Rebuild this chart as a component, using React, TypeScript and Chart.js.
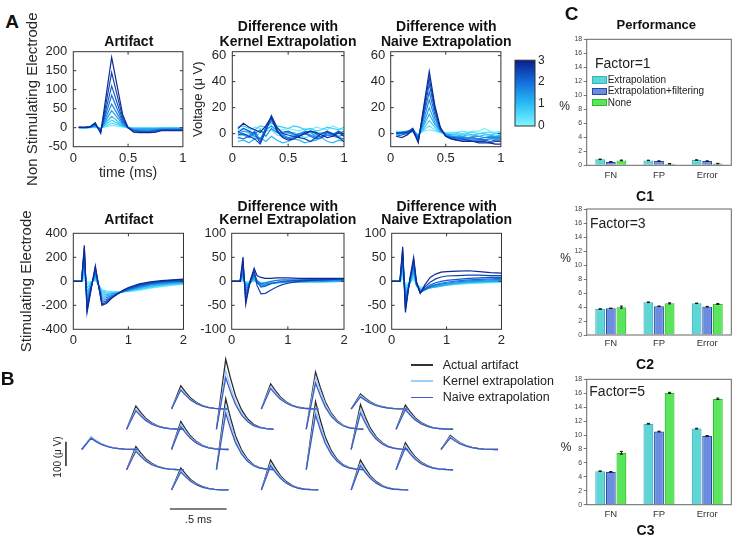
import React, { useEffect, useRef } from "react";
import { Chart, registerables } from "chart.js";

Chart.register(...registerables);

const FONT = "'Liberation Sans', Arial, Helvetica, sans-serif";

// ---------------- Panel A data ----------------
// colour level of each trace (0..3 on the colour bar), darkest first
const levelsA = [2.85, 2.55, 2.25, 1.95, 1.65, 1.35, 1.05, 0.75, 0.45, 0.15];
const xTop = [0.05, 0.1, 0.15, 0.2, 0.25, 0.3, 0.35, 0.4, 0.45, 0.5, 0.55, 0.6, 0.65, 0.7, 0.75, 0.8, 0.85, 0.9, 0.95, 1.0];
const xBot = [0, 0.1, 0.15, 0.2, 0.25, 0.33, 0.4, 0.45, 0.52, 0.6, 0.7, 0.8, 0.9, 1.0, 1.2, 1.4, 1.6, 1.8, 2.0];

const artifactTop = [
  [1, 1, 2, 13, -15, 85, 185, 110, 35, 0, -12, -13, -13, -13, -12, -8, -8, -8, -8, -8],
  [1, 1, 2, 11, -12, 66, 145, 86, 28, 0, -10, -11, -12, -12, -11, -7, -7, -7, -7, -7],
  [1, 1, 2, 9, -10, 50, 110, 65, 21, 0, -8, -9, -10, -10, -9, -6, -6, -6, -6, -6],
  [1, 0, 1, 8, -8, 38, 85, 50, 16, 0, -7, -8, -8, -8, -7, -5, -5, -5, -5, -5],
  [1, 0, 1, 6, -6, 28, 62, 37, 12, 0, -5, -6, -6, -6, -5, -4, -4, -4, -4, -4],
  [0, 0, 1, 5, -4, 20, 45, 27, 9, 0, -4, -4, -4, -4, -4, -3, -3, -3, -3, -3],
  [0, 0, 1, 4, -3, 14, 30, 18, 6, 0, -3, -3, -3, -3, -3, -2, -2, -2, -2, -2],
  [0, 0, 1, 3, -2, 9, 20, 12, 4, 0, -2, -2, -2, -2, -2, -1, -1, -1, -1, -1],
  [0, 0, 0, 2, -1, 5, 12, 8, 3, 0, -1, -1, -1, -1, -1, 0, 0, 0, 0, 0],
  [0, 0, 0, 1, 0, 3, 6, 4, 2, 1, 0, 0, 0, 0, 0, 0, 0, 1, 0, 0],
];
const kernelTop = [
  [4, 8, 5, 3, 1, 6, 13, 2, -3, -5, -4, -2, 0, 2, 1, -1, -3, -2, 1, -2],
  [-1, 0, -2, -4, -8, 2, 14, 5, 0, -1, -2, -3, -4, -6, -3, 0, 2, 0, -3, -6],
  [1, 4, 2, 0, -7, 5, 12, 4, 1, 2, 0, -2, 1, 2, 0, -3, 1, -1, 2, 0],
  [-3, -4, -2, 2, -5, 4, 10, 3, -2, -4, -3, -1, 0, -2, -4, -3, -1, -2, -3, -4],
  [2, -1, -3, 0, 3, -2, 4, 1, -1, -3, -2, 0, 1, -1, -3, -2, 1, 0, -2, -1],
  [0, 2, 1, -2, -4, 3, 6, 2, 0, 1, -1, 0, 2, 1, -2, 0, 1, -1, 0, 2],
  [-6, -5, -7, -4, -3, -6, -2, -5, -7, -6, -4, -5, -7, -6, -5, -3, -6, -7, -5, -6],
  [5, 6, 4, 3, 6, 5, 8, 6, 5, 4, 6, 5, 3, 4, 2, 3, 5, 4, 3, 5],
  [-2, -1, 0, -3, 1, 2, 3, -1, -2, 0, 1, -1, -3, -2, 0, 1, -1, 0, 2, -1],
  [3, 4, 2, 5, 4, 3, 5, 4, 3, 4, 3, 2, 4, 3, 5, 4, 3, 6, 4, 3],
];
const naiveTop = [
  [-2, -3, -1, 3, -7, 21, 48, 22, 5, -2, -4, -5, -6, -6, -6, -7, -7, -7, -8, -8],
  [0, 1, 1, 4, -6, 19, 43, 20, 4, -2, -4, -5, -5, -5, -6, -6, -6, -7, -6, -6],
  [-2, -1, 0, 2, -5, 16, 38, 18, 4, -2, -3, -4, -4, -5, -5, -5, -5, -6, -5, -5],
  [1, 0, 1, 4, -4, 14, 32, 15, 3, -1, -3, -3, -4, -4, -4, -4, -5, -4, -4, -4],
  [0, 1, 2, 3, -3, 11, 26, 12, 3, -1, -2, -3, -3, -3, -3, -4, -3, -3, -3, -3],
  [-1, 0, 1, 2, -2, 8, 20, 9, 2, -1, -2, -2, -2, -3, -2, -2, -3, -2, -2, -2],
  [1, 0, 1, 3, -2, 6, 15, 7, 2, 0, -1, -1, -2, -1, -1, -2, -1, -1, -2, -1],
  [0, 1, 0, 2, -1, 4, 10, 5, 1, 0, -1, 0, -1, 0, -1, 0, 0, -1, 0, 0],
  [2, 1, 2, 3, -1, 3, 6, 3, 1, 0, 0, 1, 0, 1, 1, 0, 1, 1, 0, 1],
  [1, 2, 1, 2, 0, 2, 3, 2, 1, 1, 1, 1, 2, 1, 2, 2, 4, 2, 1, 2],
];
const artifactBot = [
  [0, 0, 0, 300, -260, -50, 130, -10, -200, -185, -140, -105, -75, -52, -22, -5, 5, 12, 18],
  [0, 0, 0, 280, -240, -45, 115, -12, -190, -177, -137, -106, -80, -58, -28, -10, 0, 7, 12],
  [0, 0, 0, 255, -215, -40, 100, -15, -175, -165, -132, -106, -83, -63, -34, -15, -5, 2, 7],
  [0, 0, 0, 225, -190, -35, 85, -18, -158, -152, -126, -104, -85, -67, -40, -21, -10, -3, 2],
  [0, 0, 0, 190, -160, -30, 70, -20, -140, -138, -118, -101, -86, -71, -46, -27, -15, -8, -3],
  [0, 0, 0, 150, -125, -22, 55, -22, -122, -124, -110, -98, -86, -74, -51, -33, -21, -13, -8],
  [0, 0, 0, 110, -90, -15, 40, -24, -105, -110, -102, -95, -87, -77, -57, -39, -27, -18, -13],
  [0, 0, 0, 70, -55, -8, 25, -25, -90, -98, -96, -93, -88, -80, -63, -46, -33, -24, -18],
  [0, 0, 0, 35, -25, -3, 12, -22, -80, -88, -90, -91, -89, -83, -69, -52, -39, -29, -22],
  [0, 0, 0, 10, -8, 0, 5, -15, -70, -80, -85, -87, -87, -86, -75, -58, -45, -33, -25],
];
const kernelBot = [
  [0, 0, 0, 50, -48, 2, 27, 12, 8, 6, 6, 7, 7, 7, 6, 6, 6, 6, 6],
  [0, 0, 0, 42, -40, 0, 22, -8, -26, -25, -18, -12, -7, -4, 0, 2, 3, 4, 5],
  [0, 0, 0, 35, -30, -2, 18, 0, -12, -10, -5, -2, 0, 1, 2, 3, 3, 4, 4],
  [0, 0, 0, 28, -22, 0, 15, 2, -5, -3, 0, 2, 3, 3, 3, 4, 4, 4, 4],
  [0, 0, 0, 20, -15, -3, 12, -2, -10, -8, -5, -3, -2, -1, 0, 1, 1, 2, 2],
  [0, 0, 0, 14, -10, -2, 9, -3, -7, -6, -4, -3, -2, -1, 0, 0, 1, 1, 1],
  [0, 0, 0, 10, -7, -4, 6, -4, -6, -5, -4, -3, -2, -2, -1, 0, 0, 0, 1],
  [0, 0, 0, 6, -5, -3, 4, -3, -5, -5, -4, -3, -3, -2, -2, -1, -1, 0, 0],
  [0, 0, 0, 3, -3, -2, 2, -2, -4, -4, -3, -3, -2, -2, -2, -1, -1, -1, 0],
  [0, 0, 0, 1, -1, -1, 1, -1, -2, -2, -2, -2, -1, -1, -1, -1, -1, 0, 0],
];
const naiveBot = [
  [0, 0, 0, 72, -65, 5, 50, 0, -25, -8, 8, 15, 19, 20, 21, 22, 20, 18, 17],
  [0, 0, 0, 65, -58, 3, 45, -2, -25, -12, -2, 5, 9, 11, 12, 13, 13, 12, 12],
  [0, 0, 0, 58, -50, 2, 40, -4, -24, -16, -8, -3, 0, 2, 4, 6, 7, 8, 8],
  [0, 0, 0, 50, -42, 0, 35, -6, -23, -18, -11, -7, -4, -2, 1, 3, 4, 5, 6],
  [0, 0, 0, 42, -35, -2, 30, -7, -22, -18, -12, -8, -6, -4, -1, 1, 2, 3, 4],
  [0, 0, 0, 35, -28, -3, 25, -8, -20, -18, -13, -10, -8, -6, -3, -1, 0, 1, 2],
  [0, 0, 0, 28, -22, -4, 20, -8, -18, -17, -14, -11, -9, -7, -4, -2, -1, 0, 1],
  [0, 0, 0, 20, -15, -4, 15, -8, -16, -16, -14, -12, -10, -8, -5, -3, -2, -1, 0],
  [0, 0, 0, 12, -9, -4, 9, -7, -14, -14, -13, -12, -10, -8, -6, -4, -3, -2, -1],
  [0, 0, 0, 5, -4, -3, 4, -5, -12, -12, -12, -11, -10, -8, -6, -5, -4, -3, -2],
];

const xTicksTop = [0, 0.5, 1];
const xTicksBot = [0, 1, 2];
const yTicksArt = [-50, 0, 50, 100, 150, 200];
const yTicksDiffTop = [0, 20, 40, 60];
const yTicksArtBot = [-400, -200, 0, 200, 400];
const yTicksDiffBot = [-100, -50, 0, 50, 100];
const cbarTicks = [0, 1, 2, 3];

// ---------------- Panel B data ----------------
const elecCol = [0, 1, 1, 2, 2, 2, 3, 3, 4, 4, 5, 5, 6, 6, 6, 7, 7, 8];
const elecRow = [2, 1, 3, 0, 2, 4, 1, 3, 0, 4, 1, 3, 0, 2, 4, 1, 3, 2];
const ampActual = [49, 95, 95, 95, 115, 90, 288, 292, 103, 123, 235, 280, 62, 185, 123, 99, 111, 58];
const ampKernel = [54, 84, 84, 84, 104, 80, 240, 260, 92, 110, 214, 250, 56, 165, 110, 88, 100, 53];
const ampNaive = [46, 76, 76, 78, 94, 74, 212, 232, 84, 100, 190, 225, 50, 150, 100, 80, 90, 48];
const waveT = [0, 0.082, 0.124, 0.168, 0.221, 0.274, 0.327, 0.38, 0.441, 0.503];
const waveShape = [0, 1, 0.73, 0.48, 0.28, 0.15, 0.07, 0.03, 0.01, 0];
const colSpacingMs = 0.3964;
const rowSpacingUv = 83.3;

// ---------------- Panel C data ----------------
const cCats = ["FN", "FP", "Error"];
const cSeries = ["Extrapolation", "Extrapolation+filtering", "None"];
const c1Extrap = [0.85, 0.7, 0.75];
const c1Filt = [0.5, 0.6, 0.6];
const c1None = [0.7, 0.22, 0.25];
const c2Extrap = [3.71, 4.67, 4.52];
const c2Filt = [3.81, 4.1, 4.05];
const c2None = [3.98, 4.52, 4.43];
const c3Extrap = [4.8, 11.62, 10.92];
const c3Filt = [4.72, 10.5, 9.88];
const c3None = [7.45, 16.05, 15.2];
const c1Err = [[0.04, 0.03, 0.03], [0.03, 0.03, 0.03], [0.05, 0.03, 0.03]];
const c2Err = [[0.04, 0.05, 0.04], [0.03, 0.04, 0.04], [0.15, 0.08, 0.06]];
const c3Err = [[0.05, 0.05, 0.05], [0.04, 0.05, 0.04], [0.2, 0.08, 0.1]];
const cYTicks = [0, 2, 4, 6, 8, 10, 12, 14, 16, 18];

const cFill = ["#5fd5d6", "#6b8de0", "#5ae65a"];
const cBorder = ["#35b5be", "#2a48aa", "#2cbf2c"];

// ---------------- helpers ----------------
const cmapStops: [number, number[]][] = [
  [0, [128, 248, 255]],
  [1, [40, 190, 245]],
  [2, [20, 110, 220]],
  [3, [10, 30, 140]],
];
function cmap(v: number): string {
  for (let i = 0; i < cmapStops.length - 1; i++) {
    const [a, ca] = cmapStops[i];
    const [b, cb] = cmapStops[i + 1];
    if (v <= b || i === cmapStops.length - 2) {
      const t = Math.max(0, Math.min(1, (v - a) / (b - a)));
      const c = ca.map((x, k) => Math.round(x + (cb[k] - x) * t));
      return `rgb(${c[0]},${c[1]},${c[2]})`;
    }
  }
  return "#000";
}

const matBox = {
  id: "matBox",
  afterDatasetsDraw(chart: any, _args: any, opts: any) {
    if (!opts || !opts.on) return;
    const { ctx, chartArea: a } = chart;
    ctx.save();
    ctx.strokeStyle = opts.color || "#333";
    ctx.lineWidth = 1;
    ctx.strokeRect(a.left, a.top, a.right - a.left, a.bottom - a.top);
    const L = opts.inner || 0;
    if (L) {
      ctx.beginPath();
      const xs = chart.scales.x;
      const ys = chart.scales.y;
      xs.ticks.forEach((t: any) => {
        const p = xs.getPixelForValue(t.value);
        if (p <= a.left + 1 || p >= a.right - 1) return;
        ctx.moveTo(p, a.bottom);
        ctx.lineTo(p, a.bottom - L);
        ctx.moveTo(p, a.top);
        ctx.lineTo(p, a.top + L);
      });
      ys.ticks.forEach((t: any) => {
        const p = ys.getPixelForValue(t.value);
        if (p <= a.top + 1 || p >= a.bottom - 1) return;
        ctx.moveTo(a.left, p);
        ctx.lineTo(a.left + L, p);
        ctx.moveTo(a.right, p);
        ctx.lineTo(a.right - L, p);
      });
      ctx.stroke();
    }
    ctx.restore();
  },
};

const errBars = {
  id: "errBars",
  afterDatasetsDraw(chart: any, _args: any, opts: any) {
    if (!opts || !opts.errs) return;
    const { ctx } = chart;
    const ys = chart.scales.y;
    ctx.save();
    ctx.strokeStyle = "#111";
    ctx.lineWidth = 1;
    chart.data.datasets.forEach((ds: any, di: number) => {
      const meta = chart.getDatasetMeta(di);
      meta.data.forEach((bar: any, i: number) => {
        const v = ds.data[i];
        const e = opts.errs[di][i];
        const y0 = ys.getPixelForValue(v - e);
        const y1 = ys.getPixelForValue(v + e);
        ctx.beginPath();
        ctx.moveTo(bar.x, y0);
        ctx.lineTo(bar.x, y1);
        ctx.moveTo(bar.x - 1.5, y0);
        ctx.lineTo(bar.x + 1.5, y0);
        ctx.moveTo(bar.x - 1.5, y1);
        ctx.lineTo(bar.x + 1.5, y1);
        ctx.stroke();
      });
    });
    ctx.restore();
  },
};

const cbarPlugin = {
  id: "cbar",
  beforeDatasetsDraw(chart: any) {
    const { ctx, chartArea: a } = chart;
    const ys = chart.scales.y;
    const g = ctx.createLinearGradient(0, ys.getPixelForValue(0), 0, ys.getPixelForValue(3));
    [0, 0.5, 1, 1.5, 2, 2.5, 3].forEach((v) => g.addColorStop(v / 3, cmap(v)));
    ctx.save();
    ctx.fillStyle = g;
    ctx.fillRect(a.left, a.top, a.right - a.left, a.bottom - a.top);
    ctx.strokeStyle = "#333";
    ctx.lineWidth = 1;
    ctx.strokeRect(a.left, a.top, a.right - a.left, a.bottom - a.top);
    ctx.restore();
  },
};

type AOpts = {
  xs: number[];
  ys: number[][];
  xMin: number;
  xMax: number;
  xTicks: number[];
  yMin: number;
  yMax: number;
  yTicks: number[];
  yTitle?: string;
  yTitleSize?: number;
  xTitle?: string;
  xTitlePadB?: number;
  yW: number;
  xH: number;
  padTop: number;
  padRight: number;
  xTickPad: number;
  yTickPad: number;
};

function mkLine(o: AOpts): any {
  return {
    type: "line",
    data: {
      datasets: o.ys.map((ys, i) => ({
        data: ys.map((y, j) => ({ x: o.xs[j], y })),
        borderColor: cmap(levelsA[i]),
        borderWidth: 1.2,
        pointRadius: 0,
        fill: false,
        tension: 0,
      })),
    },
    options: {
      animation: false,
      responsive: false,
      maintainAspectRatio: false,
      layout: { padding: { top: o.padTop, right: o.padRight, left: 0, bottom: 0 } },
      plugins: {
        legend: { display: false },
        tooltip: { enabled: false },
        matBox: { on: true, color: "#333", inner: 3 },
      },
      scales: {
        x: {
          type: "linear",
          min: o.xMin,
          max: o.xMax,
          bounds: "data",
          afterBuildTicks: (s: any) => {
            s.ticks = o.xTicks.map((v) => ({ value: v }));
          },
          afterFit: (s: any) => {
            s.height = o.xH;
          },
          grid: { display: false, drawTicks: false },
          border: { display: false },
          ticks: {
            autoSkip: false,
            maxRotation: 0,
            minRotation: 0,
            padding: o.xTickPad,
            color: "#262626",
            font: { family: FONT, size: 13 },
            callback: (v: any) => String(v),
          },
          title: o.xTitle
            ? {
                display: true,
                text: o.xTitle,
                color: "#262626",
                font: { family: FONT, size: 14 },
                padding: { top: 0, bottom: o.xTitlePadB || 0 },
              }
            : { display: false },
        },
        y: {
          type: "linear",
          min: o.yMin,
          max: o.yMax,
          bounds: "data",
          afterBuildTicks: (s: any) => {
            s.ticks = o.yTicks.map((v) => ({ value: v }));
          },
          afterFit: (s: any) => {
            s.width = o.yW;
          },
          grid: { display: false, drawTicks: false },
          border: { display: false },
          ticks: {
            autoSkip: false,
            padding: o.yTickPad,
            color: "#262626",
            font: { family: FONT, size: 13 },
            callback: (v: any) => String(v),
          },
          title: o.yTitle
            ? {
                display: true,
                text: o.yTitle,
                color: "#262626",
                font: { family: FONT, size: o.yTitleSize || 15 },
                padding: { top: 0, bottom: 0 },
              }
            : { display: false },
        },
      },
    },
    plugins: [matBox],
  };
}

function mkBar(vals: number[][], errs: number[][], padTop: number, xH: number, xPad: number): any {
  return {
    type: "bar",
    data: {
      labels: cCats,
      datasets: vals.map((v, i) => ({
        label: cSeries[i],
        data: v,
        backgroundColor: cFill[i],
        borderColor: cBorder[i],
        borderWidth: 1.2,
        categoryPercentage: 0.66,
        barPercentage: 0.93,
      })),
    },
    options: {
      animation: false,
      responsive: false,
      maintainAspectRatio: false,
      layout: { padding: { top: padTop, right: 1.7, left: 0, bottom: 0 } },
      plugins: {
        legend: { display: false },
        tooltip: { enabled: false },
        matBox: { on: true, color: "#666", inner: 0 },
        errBars: { errs },
      },
      scales: {
        x: {
          grid: { display: false, drawTicks: false },
          border: { display: false },
          afterFit: (s: any) => {
            s.height = xH;
          },
          ticks: {
            maxRotation: 0,
            minRotation: 0,
            padding: xPad,
            color: "#333",
            font: { family: FONT, size: 9.5 },
          },
        },
        y: {
          min: 0,
          max: 18,
          bounds: "data",
          afterBuildTicks: (s: any) => {
            s.ticks = cYTicks.map((v) => ({ value: v }));
          },
          afterFit: (s: any) => {
            s.width = 28.7;
          },
          grid: { display: true, drawOnChartArea: false, drawTicks: true, tickLength: 3, color: "#777" },
          border: { display: false },
          ticks: {
            autoSkip: false,
            padding: 1.5,
            color: "#444",
            font: { family: FONT, size: 7 },
          },
        },
      },
    },
    plugins: [matBox, errBars],
  };
}

// Panel B mapping constants (pixel scale of the trace drawing)
const B_LEFT = 0, B_TOP = 340, B_W = 540, B_H = 196;
const PX_PER_MS = 113.3;
const PX_PER_UV = 0.243;
const ORIGIN_X = 81.7; // canvas px of column 0 start
const ORIGIN_Y = 69; // canvas px of row 0 baseline

function mkB(): any {
  const kinds = [
    { amps: ampNaive, color: "#3d58c8" },
    { amps: ampKernel, color: "#9ccff2" },
    { amps: ampActual, color: "#2b2b2b" },
  ];
  const datasets: any[] = [];
  kinds.forEach((k) => {
    elecCol.forEach((c, e) => {
      const x0 = c * colSpacingMs;
      const y0 = -elecRow[e] * rowSpacingUv;
      datasets.push({
        data: waveT.map((t, j) => ({ x: x0 + t, y: y0 + k.amps[e] * waveShape[j] })),
        borderColor: k.color,
        borderWidth: 1.3,
        pointRadius: 0,
        tension: 0,
        fill: false,
      });
    });
  });
  // scale bars: 100 uV vertical and 0.5 ms horizontal
  datasets.push({
    data: [{ x: -0.139, y: -134.6 }, { x: -0.139, y: -234.6 }],
    borderColor: "#222",
    borderWidth: 1.5,
    pointRadius: 0,
  });
  datasets.push({
    data: [{ x: 0.779, y: -411.5 }, { x: 1.279, y: -411.5 }],
    borderColor: "#555",
    borderWidth: 1.5,
    pointRadius: 0,
  });
  return {
    type: "line",
    data: { datasets },
    options: {
      animation: false,
      responsive: false,
      maintainAspectRatio: false,
      layout: { padding: 0 },
      plugins: { legend: { display: false }, tooltip: { enabled: false } },
      scales: {
        x: {
          type: "linear",
          display: false,
          min: -ORIGIN_X / PX_PER_MS,
          max: (B_W - ORIGIN_X) / PX_PER_MS,
        },
        y: {
          type: "linear",
          display: false,
          min: -(B_H - ORIGIN_Y) / PX_PER_UV,
          max: ORIGIN_Y / PX_PER_UV,
        },
      },
    },
  };
}

function mkCbar(): any {
  return {
    type: "scatter",
    data: { datasets: [] },
    options: {
      animation: false,
      responsive: false,
      maintainAspectRatio: false,
      layout: { padding: { top: 10, bottom: 12, left: 5, right: 0 } },
      plugins: { legend: { display: false }, tooltip: { enabled: false } },
      scales: {
        x: { type: "linear", display: false, min: 0, max: 1 },
        y: {
          type: "linear",
          position: "right",
          min: 0,
          max: 3,
          bounds: "data",
          afterBuildTicks: (s: any) => {
            s.ticks = cbarTicks.map((v) => ({ value: v }));
          },
          afterFit: (s: any) => {
            s.width = 25;
          },
          grid: { display: false, drawTicks: false },
          border: { display: false },
          ticks: { padding: 3, color: "#262626", font: { family: FONT, size: 12 } },
        },
      },
    },
    plugins: [cbarPlugin],
  };
}

function ChartBox(props: { left: number; top: number; width: number; height: number; make: () => any }) {
  const ref = useRef<HTMLCanvasElement | null>(null);
  useEffect(() => {
    if (!ref.current) return;
    const c = new Chart(ref.current, props.make());
    return () => c.destroy();
  }, []);
  return (
    <canvas
      ref={ref}
      width={props.width}
      height={props.height}
      style={{ position: "absolute", left: props.left, top: props.top, width: props.width, height: props.height }}
    />
  );
}

function Txt(props: {
  x: number;
  y: number;
  size: number;
  bold?: boolean;
  rot?: number;
  left?: boolean;
  color?: string;
  children: React.ReactNode;
}) {
  const tr = props.left ? "translate(0,-50%)" : "translate(-50%,-50%)";
  return (
    <div
      style={{
        position: "absolute",
        left: props.x,
        top: props.y,
        transform: tr + (props.rot ? ` rotate(${props.rot}deg)` : ""),
        fontSize: props.size,
        fontWeight: props.bold ? "bold" : "normal",
        whiteSpace: "nowrap",
        lineHeight: 1,
        color: props.color || "#111",
        fontFamily: FONT,
      }}
    >
      {props.children}
    </div>
  );
}

function Swatch(props: { x: number; y: number; fill: string; border: string }) {
  return (
    <div
      style={{
        position: "absolute",
        left: props.x,
        top: props.y - 3.7,
        width: 13,
        height: 5.4,
        background: props.fill,
        border: `1.2px solid ${props.border}`,
      }}
    />
  );
}

function LegLine(props: { x: number; y: number; color: string }) {
  return (
    <div
      style={{
        position: "absolute",
        left: props.x,
        top: props.y - 0.6,
        width: 22.6,
        height: 1.2,
        background: props.color,
      }}
    />
  );
}

export default function App() {
  return (
    <div
      style={{
        position: "absolute",
        left: 0,
        top: 0,
        width: 733,
        height: 536,
        overflow: "hidden",
        background: "#fff",
        fontFamily: FONT,
      }}
    >
      {/* Panel A, top row */}
      <ChartBox
        left={24}
        top={10}
        width={166}
        height={180}
        make={() =>
          mkLine({
            xs: xTop, ys: artifactTop, xMin: 0, xMax: 1, xTicks: xTicksTop,
            yMin: -50, yMax: 200, yTicks: yTicksArt,
            yTitle: "Non Stimulating Electrode", yTitleSize: 15,
            xTitle: "time (ms)", xTitlePadB: 8.6,
            yW: 49.3, xH: 43.3, padTop: 41.7, padRight: 5.7, xTickPad: 3.5, yTickPad: 6,
          })
        }
      />
      <ChartBox
        left={191}
        top={10}
        width={161}
        height={180}
        make={() =>
          mkLine({
            xs: xTop, ys: kernelTop, xMin: 0, xMax: 1, xTicks: xTicksTop,
            yMin: -10, yMax: 63, yTicks: yTicksDiffTop,
            yTitle: "Voltage (μ V)", yTitleSize: 13,
            yW: 41.3, xH: 43.3, padTop: 41.7, padRight: 8, xTickPad: 3.5, yTickPad: 6,
          })
        }
      />
      <ChartBox
        left={360}
        top={10}
        width={148}
        height={180}
        make={() =>
          mkLine({
            xs: xTop, ys: naiveTop, xMin: 0, xMax: 1, xTicks: xTicksTop,
            yMin: -10, yMax: 63, yTicks: yTicksDiffTop,
            yW: 30.7, xH: 43.3, padTop: 41.7, padRight: 6, xTickPad: 3.5, yTickPad: 5.5,
          })
        }
      />
      <ChartBox left={510} top={50} width={50} height={88} make={mkCbar} />

      {/* Panel A, bottom row */}
      <ChartBox
        left={18}
        top={200}
        width={172}
        height={160}
        make={() =>
          mkLine({
            xs: xBot, ys: artifactBot, xMin: 0, xMax: 2, xTicks: xTicksBot,
            yMin: -400, yMax: 400, yTicks: yTicksArtBot,
            yTitle: "Stimulating Electrode", yTitleSize: 15,
            yW: 55.3, xH: 30.7, padTop: 33.3, padRight: 5.7, xTickPad: 2.9, yTickPad: 6,
          })
        }
      />
      <ChartBox
        left={195}
        top={200}
        width={157}
        height={160}
        make={() =>
          mkLine({
            xs: xBot, ys: kernelBot, xMin: 0, xMax: 2, xTicks: xTicksBot,
            yMin: -100, yMax: 100, yTicks: yTicksDiffBot,
            yW: 36.7, xH: 30.7, padTop: 33.3, padRight: 8, xTickPad: 2.9, yTickPad: 5.5,
          })
        }
      />
      <ChartBox
        left={355}
        top={200}
        width={153}
        height={160}
        make={() =>
          mkLine({
            xs: xBot, ys: naiveBot, xMin: 0, xMax: 2, xTicks: xTicksBot,
            yMin: -100, yMax: 100, yTicks: yTicksDiffBot,
            yW: 36.7, xH: 30.7, padTop: 33.3, padRight: 6.3, xTickPad: 2.9, yTickPad: 5.5,
          })
        }
      />

      {/* Panel B */}
      <ChartBox left={B_LEFT} top={B_TOP} width={B_W} height={B_H} make={mkB} />

      {/* Panel C */}
      <ChartBox left={558} top={30} width={175} height={155} make={() => mkBar([c1Extrap, c1Filt, c1None], c1Err, 9.3, 19.7, 4)} />
      <ChartBox left={558} top={200} width={175} height={155} make={() => mkBar([c2Extrap, c2Filt, c2None], c2Err, 9, 20, 2.8)} />
      <ChartBox left={558} top={370} width={175} height={150} make={() => mkBar([c3Extrap, c3Filt, c3None], c3Err, 9.3, 15.3, 4.4)} />

      {/* Panel letters */}
      <Txt x={12} y={21} size={19} bold>A</Txt>
      <Txt x={7.5} y={378} size={19} bold>B</Txt>
      <Txt x={571.5} y={12.5} size={19} bold>C</Txt>

      {/* Panel A titles */}
      <Txt x={128.8} y={40.7} size={14} bold>Artifact</Txt>
      <Txt x={288} y={26} size={14} bold>Difference with</Txt>
      <Txt x={288} y={40.7} size={14} bold>Kernel Extrapolation</Txt>
      <Txt x={446.3} y={26} size={14} bold>Difference with</Txt>
      <Txt x={446.3} y={40.7} size={14} bold>Naive Extrapolation</Txt>
      <Txt x={128.8} y={219} size={14} bold>Artifact</Txt>
      <Txt x={287.8} y={205.7} size={14} bold>Difference with</Txt>
      <Txt x={287.8} y={219} size={14} bold>Kernel Extrapolation</Txt>
      <Txt x={446.7} y={205.7} size={14} bold>Difference with</Txt>
      <Txt x={446.7} y={219} size={14} bold>Naive Extrapolation</Txt>

      {/* Panel B annotations */}
      <Txt x={58.3} y={456.7} size={10} rot={-90} color="#222">100 (μ V)</Txt>
      <Txt x={198.3} y={519.3} size={11} color="#222">.5 ms</Txt>
      <LegLine x={410.7} y={365} color="#333" />
      <LegLine x={410.7} y={381} color="#9ccff2" />
      <LegLine x={410.7} y={397.3} color="#3d58c8" />
      <Txt x={442.7} y={365} size={12.5} left color="#222">Actual artifact</Txt>
      <Txt x={442.7} y={381} size={12.5} left color="#222">Kernel extrapolation</Txt>
      <Txt x={442.7} y={397.3} size={12.5} left color="#222">Naive extrapolation</Txt>

      {/* Panel C annotations */}
      <Txt x={656.3} y={24} size={13} bold>Performance</Txt>
      <Txt x={595} y={63.3} size={14} left color="#222">Factor=1</Txt>
      <Swatch x={591.7} y={80} fill={cFill[0]} border={cBorder[0]} />
      <Swatch x={591.7} y={91.3} fill={cFill[1]} border={cBorder[1]} />
      <Swatch x={591.7} y={102.7} fill={cFill[2]} border={cBorder[2]} />
      <Txt x={607.7} y={80} size={10} left color="#222">{cSeries[0]}</Txt>
      <Txt x={607.7} y={91.3} size={10} left color="#222">{cSeries[1]}</Txt>
      <Txt x={607.7} y={102.7} size={10} left color="#222">{cSeries[2]}</Txt>
      <Txt x={564.7} y={106} size={12} color="#222">%</Txt>
      <Txt x={645} y={195.7} size={14} bold>C1</Txt>
      <Txt x={590} y={222.7} size={14} left color="#222">Factor=3</Txt>
      <Txt x={565.7} y={258.3} size={12} color="#222">%</Txt>
      <Txt x={645} y={364} size={14} bold>C2</Txt>
      <Txt x={589.3} y={390.7} size={14} left color="#222">Factor=5</Txt>
      <Txt x={566} y={447.3} size={12} color="#222">%</Txt>
      <Txt x={645.5} y={530} size={14} bold>C3</Txt>
    </div>
  );
}
